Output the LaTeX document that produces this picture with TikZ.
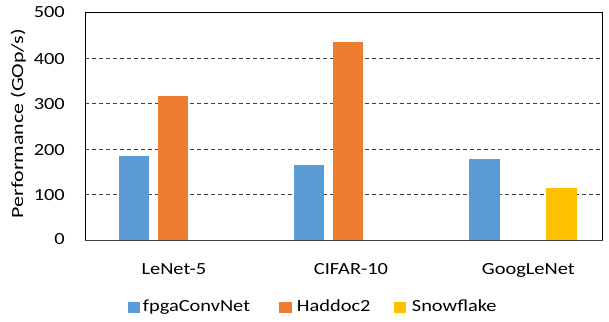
\documentclass[tikz,border=0pt]{standalone}
\usepackage{fontspec}
\setmainfont{Carlito}
\usepackage{graphicx}
\definecolor{cblue}{HTML}{5B9BD5}
\definecolor{corange}{HTML}{ED7D31}
\definecolor{cyellow}{HTML}{FFC000}
\definecolor{axgray}{HTML}{404040}
\newcommand{\wt}[1]{\scalebox{1.2}[1]{#1}}
\begin{document}
\begin{tikzpicture}[x=1pt,y=-1pt,
  txt/.style={font=\fontsize{17}{20}\selectfont, inner sep=0pt},
  gridln/.style={axgray, dash pattern=on 4pt off 3pt, line width=0.9pt},
  barb/.style={fill=cblue},
  baro/.style={fill=corange},
  bary/.style={fill=cyellow}]
\useasboundingbox (0,0) rectangle (609,321);
\fill[white] (0,0) rectangle (609,321);
% gridlines
\foreach \v in {100,200,300,400}
  \draw[gridln] (85.3,{240.3-\v*0.4552}) -- (602.7,{240.3-\v*0.4552});
% bars
\fill[barb] (119,240.3) rectangle (149.3,{240.3-185*0.4552});
\fill[baro] (157.7,240.3) rectangle (188.3,{240.3-317*0.4552});
\fill[barb] (293.7,240.3) rectangle (324.3,{240.3-165*0.4552});
\fill[baro] (333,240.3) rectangle (363.3,{240.3-435*0.4552});
\fill[barb] (469,240.3) rectangle (499.7,{240.3-179*0.4552});
\fill[bary] (546.3,240.3) rectangle (577,{240.3-115*0.4552});
% frame
\draw[black, line width=0.8pt] (85.3,240.3) -- (85.3,12.7) -- (602.7,12.7) -- (602.7,240.3);
\draw[axgray, line width=1.4pt] (85.3,240.3) -- (602.7,240.3);
% tick labels
\node[txt, anchor=base east] (t0) at (65,244) {\wt{0}};
\node[txt, anchor=base east] (t1) at (65,{240.3-100*0.4552+5.8}) {\wt{100}};
\node[txt, anchor=base east] (t2) at (65,{240.3-200*0.4552+5.8}) {\wt{200}};
\node[txt, anchor=base east] (t3) at (65,{240.3-300*0.4552+5.8}) {\wt{300}};
\node[txt, anchor=base east] (t4) at (65,{240.3-400*0.4552+5.8}) {\wt{400}};
\node[txt, anchor=base east] (t5) at (65,17.2) {\wt{500}};
% axis title
\node[txt, anchor=base, rotate=90] (ylab) at (23,123.5) {\scalebox{1.29}[1]{Performance (GOp/s)}};
% category labels
\node[txt, anchor=base] (c1) at (173.9,274) {\wt{LeNet-5}};
\node[txt, anchor=base] (c2) at (351,274) {\wt{CIFAR-10}};
\node[txt, anchor=base] (c3) at (528.3,274) {\wt{GoogLeNet}};
% legend
\fill[barb] (128.3,301.7) rectangle (140,312.7);
\node[txt, anchor=base west] (l1) at (142.7,311) {\wt{fpgaConvNet}};
\fill[baro] (279.3,301.7) rectangle (291.7,312.7);
\node[txt, anchor=base west] (l2) at (296.7,311) {\wt{Haddoc2}};
\fill[bary] (394.3,301.7) rectangle (406,312.7);
\node[txt, anchor=base west] (l3) at (411.7,311) {\wt{Snowflake}};
\end{tikzpicture}
\end{document}
